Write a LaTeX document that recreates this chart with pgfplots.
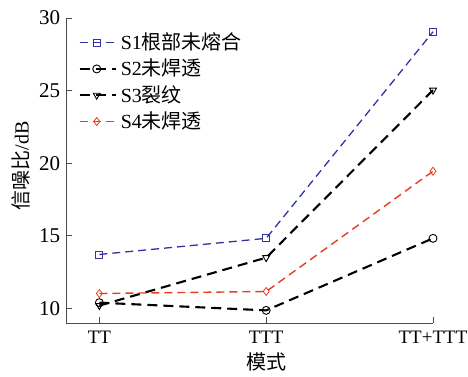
\documentclass[border=0pt]{standalone}
\usepackage{pgfplots}
\pgfplotsset{compat=1.18}
\usepackage{fontspec}
\setmainfont{Liberation Serif}
\newfontfamily\cjk{Noto Sans CJK SC}
\definecolor{sblue}{RGB}{50,50,165}
\definecolor{sred}{RGB}{235,60,30}
\begin{document}
\fontsize{20}{24}\selectfont
\begin{tikzpicture}
\begin{axis}[
  scale only axis,
  width=367pt, height=305pt,
  xmin=-0.2, xmax=2, ymin=9, ymax=30,
  axis lines=left,
  axis line style={-, line width=0.9pt, black!70},
  xtick={0,1,2}, xticklabels={TT,TTT,TT+TTT},
  ytick={10,15,20,25,30},
  tick align=inside, tick pos=left,
  major tick length=6pt,
  tick style={line width=0.9pt, black!70},
  /pgf/number format/assume math mode=true,
  xticklabel style={font=\fontsize{19}{22}\selectfont, yshift=-1pt},
  yticklabel style={font=\fontsize{21}{24}\selectfont, xshift=1pt},
  xlabel={\cjk 模式}, ylabel={\cjk 信噪比\rmfamily/dB},
  xlabel style={font=\fontsize{20}{24}\selectfont, at={(axis description cs:0.545,-0.128)}, anchor=center},
  ylabel style={font=\fontsize{20}{24}\selectfont, at={(axis description cs:-0.1226,0.515)}, anchor=center},
  legend style={draw=none, fill=none, at={(axis description cs:0.034,0.956)}, anchor=north west,
    font=\fontsize{20}{24}\selectfont, row sep=4.5pt, inner sep=0pt, nodes={inner sep=1pt}, column sep=3pt},
  legend cell align=left,
  legend image code/.code={\draw[#1] (0pt,0pt) -- (36pt,0pt); \path[#1, mark repeat=2, mark phase=2] plot coordinates {(0pt,0pt) (17pt,0pt) (36pt,0pt)};},
  clip=false,
]
\addplot[sblue, line width=1.3pt, dash pattern=on 8pt off 5pt, mark=square, mark size=3.5pt, mark options={solid, line width=0.8pt}]
  coordinates {(0,13.72) (1,14.83) (2,29.05)};
\addlegendentry{S1{\cjk 根部未熔合}}
\addplot[black, line width=2.1pt, dash pattern=on 10pt off 6pt, mark=o, mark size=4pt, mark options={solid, line width=0.9pt}]
  coordinates {(0,10.4) (1,9.87) (2,14.83)};
\addlegendentry{S2{\cjk 未焊透}}
\addplot[black, line width=2.1pt, dash pattern=on 10pt off 6pt, mark=triangle, mark size=4pt, mark options={solid, rotate=180, line width=0.9pt}]
  coordinates {(0,10.2) (1,13.5) (2,25.03)};
\addlegendentry{S3{\cjk 裂纹}}
\addplot[sred, line width=1.4pt, dash pattern=on 8pt off 5pt, mark=diamond, mark size=4pt, mark options={solid, line width=0.8pt}]
  coordinates {(0,11.03) (1,11.17) (2,19.45)};
\addlegendentry{S4{\cjk 未焊透}}
\end{axis}
\pgfresetboundingbox
\path (-66pt,-53pt) rectangle (402pt,323pt);
\end{tikzpicture}
\end{document}
